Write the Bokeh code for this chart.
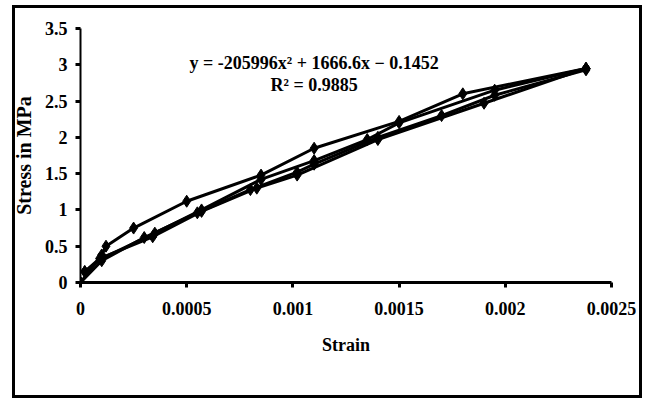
from bokeh.plotting import figure
from bokeh.models import FixedTicker, Label, Range1d
from bokeh.embed import file_html
from bokeh.resources import INLINE

# ---- data ----
s1_strain = [0, 0.0001, 0.00012, 0.00025, 0.0005, 0.00085, 0.0011, 0.0015, 0.0018, 0.00238]
s1_stress = [0, 0.38, 0.50, 0.75, 1.12, 1.48, 1.85, 2.22, 2.60, 2.95]

s2_strain = [0.00238, 0.0019, 0.0014, 0.00102, 0.00083, 0.00057, 0.00034, 0.00009, 0.00002]
s2_stress = [2.95, 2.47, 1.97, 1.48, 1.30, 0.98, 0.63, 0.33, 0.15]

s3_strain = [0.00002, 0.0001, 0.00035, 0.00057, 0.00085, 0.0011, 0.00135, 0.0015, 0.00195, 0.00238]
s3_stress = [0.15, 0.33, 0.68, 1.0, 1.42, 1.68, 1.97, 2.2, 2.65, 2.95]

s4_strain = [0.00238, 0.00195, 0.0017, 0.0014, 0.0011, 0.00102, 0.0008, 0.00055, 0.0003, 0.0001, 0]
s4_stress = [2.93, 2.58, 2.3, 2.0, 1.63, 1.52, 1.28, 0.96, 0.62, 0.3, 0]

x_ticks = [0, 0.0005, 0.001, 0.0015, 0.002, 0.0025]
x_tick_labels = ["0", "0.0005", "0.001", "0.0015", "0.002", "0.0025"]
y_ticks = [0, 0.5, 1, 1.5, 2, 2.5, 3, 3.5]
y_tick_labels = ["0", "0.5", "1", "1.5", "2", "2.5", "3", "3.5"]

eq_text = "y = -205996x\u00b2 + 1666.6x \u2212 0.1452"
r2_text = "R\u00b2 = 0.9885"

FONT = "Liberation Serif"

p = figure(width=649, height=400, output_backend="svg", toolbar_location=None,
           x_range=Range1d(0, 0.0025), y_range=Range1d(0, 3.5),
           min_border_left=80, min_border_right=38, min_border_top=28, min_border_bottom=118)
p.outline_line_color = None
p.grid.visible = False
p.border_fill_color = None
p.background_fill_color = None
p.stylesheets = [
    ":host { background: white; position: relative; }"
    ":host::after { content: ''; position: absolute; left: 12px; top: 5px; right: 7px; bottom: 2px;"
    " border: 3px solid black; pointer-events: none; z-index: 10; }"
]

for xs, ys in [(s1_strain, s1_stress), (s2_strain, s2_stress), (s3_strain, s3_stress), (s4_strain, s4_stress)]:
    p.line(xs, ys, line_color="black", line_width=3)
    p.scatter(xs, ys, marker="diamond", size=12, fill_color="black", line_color="black")

p.xaxis.ticker = FixedTicker(ticks=x_ticks)
p.xaxis.major_label_overrides = {t: l for t, l in zip(x_ticks, x_tick_labels)}
p.yaxis.ticker = FixedTicker(ticks=y_ticks)
p.yaxis.major_label_overrides = {t: l for t, l in zip(y_ticks, y_tick_labels)}

for ax in (p.xaxis, p.yaxis):
    ax.minor_tick_line_color = None
    ax.axis_line_color = "black"
    ax.major_tick_line_color = "black"
    ax.major_tick_in = 0
    ax.major_label_text_font = FONT
    ax.major_label_text_font_style = "bold"
    ax.major_label_text_font_size = "18px"
    ax.major_label_text_color = "black"
    ax.axis_label_text_font = FONT
    ax.axis_label_text_font_style = "bold"
    ax.axis_label_text_color = "black"

p.xaxis.axis_line_width = 3
p.xaxis.major_tick_line_width = 3
p.xaxis.major_tick_out = 5
p.xaxis.major_label_standoff = 14
p.xaxis.axis_label = "Strain"
p.xaxis.axis_label_text_font_size = "18px"
p.xaxis.axis_label_standoff = 17

p.yaxis.axis_line_width = 2
p.yaxis.major_tick_line_width = 3
p.yaxis.major_tick_out = 5
p.yaxis.major_label_standoff = 8
p.yaxis.axis_label = "Stress in MPa"
p.yaxis.axis_label_text_font_size = "20px"
p.yaxis.axis_label_standoff = 7

p.add_layout(Label(x=0.0011, y=3.03, text=eq_text, text_align="center", text_baseline="middle",
                   text_font=FONT, text_font_style="bold", text_font_size="18px", text_color="black"))
p.add_layout(Label(x=0.0011, y=2.72, text=r2_text, text_align="center", text_baseline="middle",
                   text_font=FONT, text_font_style="bold", text_font_size="18px", text_color="black"))

open("out.html", "w").write(file_html(p, INLINE))
